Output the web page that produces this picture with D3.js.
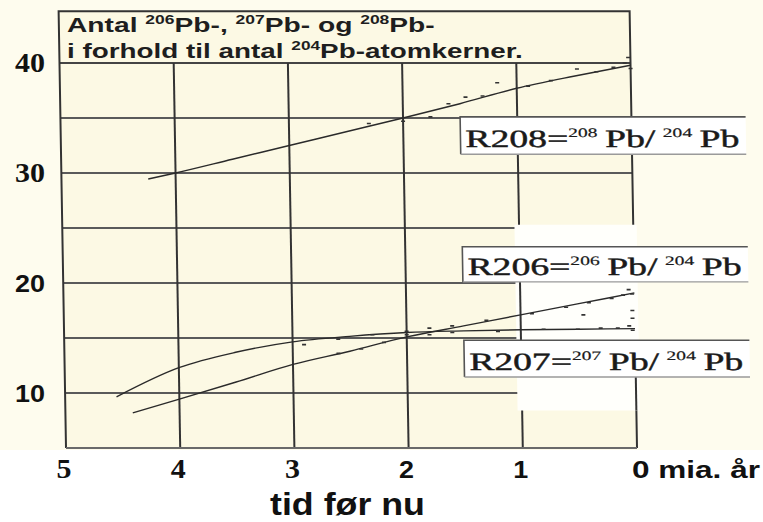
<!DOCTYPE html>
<html><head><meta charset="utf-8">
<script src="https://cdn.jsdelivr.net/npm/d3@7"></script>
<style>body{margin:0;background:#fff}svg{display:block}</style>
</head><body>
<svg id="chart" width="763" height="522"></svg>
<script>
// ---------- data ----------
const xTicks = [5, 4, 3, 2, 1, 0];
const xTickLabels = ["5", "4", "3", "2", "1", "0 mia. år"];
const yTicks = [10, 20, 30, 40];
const yTickLabels = ["10", "20", "30", "40"];
const gridValues = [10, 15, 20, 25, 30, 35];
const gridTimes = [4, 3, 2, 1];

const r208Time  = [4.24, 4.0, 3.5, 3.0, 2.5, 2.0, 1.5, 1.0, 0.5, 0.0];
const r208Value = [29.45, 30.0, 31.25, 32.5, 33.75, 35.0, 36.3, 37.7, 38.8, 39.8];
const r206Time  = [4.41, 4.0, 3.5, 3.0, 2.5, 2.0, 1.5, 1.0, 0.5, 0.0];
const r206Value = [8.2, 9.45, 11.0, 12.6, 13.8, 15.1, 16.1, 17.1, 18.1, 19.1];
const r207Time  = [4.55, 4.0, 3.5, 3.0, 2.5, 2.0, 1.5, 1.0, 0.5, 0.0];
const r207Value = [9.65, 12.3, 13.7, 14.65, 15.15, 15.5, 15.65, 15.75, 15.8, 15.85];

// measured sample points (scatter)
const r208PtTime  = [2.3, 2.0, 1.76, 1.6, 1.45, 1.3, 1.17, 0.9, 0.7, 0.47, 0.3, 0.15, 0.05, 0.02, 0.0];
const r208PtValue = [34.5, 34.7, 35.1, 36.3, 36.9, 37.0, 38.2, 37.9, 38.4, 39.45, 39.2, 39.6, 40.0, 40.5, 39.5];
const r206PtTime  = [2.6, 2.4, 2.2, 2.0, 1.8, 1.6, 1.3, 0.9, 0.6, 0.45, 0.4, 0.2, 0.1, 0.05, 0.02, 0.02, 0.02];
const r206PtValue = [13.6, 14.0, 14.6, 15.3, 15.9, 16.1, 16.6, 17.2, 17.8, 17.1, 18.2, 18.6, 18.9, 19.4, 19.0, 17.5, 16.8];
const r207PtTime  = [2.9, 2.6, 2.3, 2.0, 1.8, 1.6, 1.2, 0.8, 0.5, 0.3, 0.15, 0.05, 0.02];
const r207PtValue = [14.4, 14.9, 15.3, 15.6, 15.3, 15.5, 15.6, 15.8, 15.8, 15.9, 15.9, 16.1, 15.7];

const headerLine1 = [["Antal ", false], ["206", true], ["Pb-, ", false], ["207", true], ["Pb- og ", false], ["208", true], ["Pb-", false]];
const headerLine2 = [["i forhold til antal ", false], ["204", true], ["Pb-atomkerner.", false]];
const xTitle = "tid før nu";
const seriesLabels = [
  {name: "R208", iso: "208"},
  {name: "R206", iso: "206"},
  {name: "R207", iso: "207"}
];

// ---------- layout ----------
const svg = d3.select("#chart");
const x = d3.scaleLinear().domain([5, 0]).range([66, 637]);
const y = d3.scaleLinear().domain([5, 40]).range([448, 63]);
const topValue = 44.7;
const sans = "'Liberation Sans', Arial, sans-serif";
const serif = "'Liberation Serif', 'Times New Roman', serif";

function fitStart(sel, px, py, w) {
  const bw = sel.node().getBBox().width;
  sel.attr("transform", `translate(${px},${py}) scale(${w / bw},1)`);
}
function fitEnd(sel, px, py, w) {
  const bw = sel.node().getBBox().width;
  sel.attr("transform", `translate(${px - w},${py}) scale(${w / bw},1)`);
}

// subtle page tint
svg.append("rect").attr("x", 0).attr("y", 0).attr("width", 763).attr("height", 450).attr("fill", "#fefcee");

const skew = Math.atan(0.0169) * 180 / Math.PI;
const g = svg.append("g").attr("transform", `translate(0,448) skewX(${skew}) translate(0,-448)`);

// plot background
g.append("rect").attr("x", x(5)).attr("y", y(topValue))
  .attr("width", x(0) - x(5)).attr("height", y(5) - y(topValue)).attr("fill", "#fcf9e4");

// horizontal grid
g.selectAll("line.hg").data(gridValues).join("line").attr("class", "hg")
  .attr("x1", x(5)).attr("x2", x(0)).attr("y1", d => y(d)).attr("y2", d => y(d))
  .attr("stroke", "#5a5a5a").attr("stroke-width", 2);
// header separator (40)
g.append("line").attr("x1", x(5)).attr("x2", x(0)).attr("y1", y(40)).attr("y2", y(40))
  .attr("stroke", "#444").attr("stroke-width", 2);
// vertical grid
g.selectAll("line.vg").data(gridTimes).join("line").attr("class", "vg")
  .attr("x1", d => x(d)).attr("x2", d => x(d)).attr("y1", y(40)).attr("y2", y(5))
  .attr("stroke", "#333").attr("stroke-width", 2);
// frame
g.append("path").attr("d", `M${x(5)},${y(5)}V${y(topValue)}H${x(0)}V${y(5)}`)
  .attr("fill", "none").attr("stroke", "#333").attr("stroke-width", 2);
g.append("line").attr("x1", x(5)).attr("x2", x(0)).attr("y1", y(5)).attr("y2", y(5))
  .attr("stroke", "#6a6a6a").attr("stroke-width", 2);

// pasted white patch around lower labels
g.append("rect").attr("x", x(1.04)).attr("y", y(25.3))
  .attr("width", x(-0.03) - x(1.04)).attr("height", y(8.4) - y(25.3)).attr("fill", "#fffffb");
g.append("line").attr("x1", x(1)).attr("x2", x(1)).attr("y1", y(20.1)).attr("y2", y(14.8))
  .attr("stroke", "#333").attr("stroke-width", 2);
g.append("line").attr("x1", x(0)).attr("x2", x(0)).attr("y1", y(11.45)).attr("y2", y(8.4))
  .attr("stroke", "#333").attr("stroke-width", 2);

// label boxes
const boxes = [
  {lo: 31.7, hi: 35.1},
  {lo: 20.1, hi: 23.3},
  {lo: 11.45, hi: 14.8}
];
boxes.forEach((b, i) => {
  const x0 = x(1.5), x1 = x(-1.0), yt = y(b.hi), yb = y(b.lo);
  g.append("rect").attr("x", x0).attr("y", yt).attr("width", x1 - x0).attr("height", yb - yt).attr("fill", "#fff");
  g.append("path").attr("d", `M${x1},${yt}H${x0}V${yb}`).attr("fill", "none").attr("stroke", "#555").attr("stroke-width", 1.6);
  g.append("line").attr("x1", x0).attr("x2", x1).attr("y1", yb).attr("y2", yb).attr("stroke", "#9a9a9a").attr("stroke-width", 1.4);
  const lab = seriesLabels[i];
  const t = g.append("text").attr("font-family", serif).attr("font-size", 25).attr("fill", "#1a1a1a")
    .attr("stroke", "#1a1a1a").attr("stroke-width", 0.45);
  t.append("tspan").text(lab.name + "=");
  t.append("tspan").attr("font-size", 13).attr("dy", -10).attr("stroke-width", 0.2).text(lab.iso);
  t.append("tspan").attr("dy", 10).text("\u2009Pb/\u2009");
  t.append("tspan").attr("font-size", 13).attr("dy", -10).attr("stroke-width", 0.2).text("204");
  t.append("tspan").attr("dy", 10).text("\u2009Pb");
  fitStart(t, x0 + 5, yb - 7, 274);
});

// curves
const line = d3.line().x(d => x(d[0])).y(d => y(d[1])).curve(d3.curveMonotoneX);
const series = [
  [r208Time, r208Value, r208PtTime, r208PtValue],
  [r206Time, r206Value, r206PtTime, r206PtValue],
  [r207Time, r207Value, r207PtTime, r207PtValue]
];
series.forEach(([ts, vs, pts, pvs]) => {
  const pts2 = ts.map((t, i) => [t, vs[i]]).reverse();
  g.append("path").attr("d", line(pts2)).attr("fill", "none").attr("stroke", "#2a2a2a").attr("stroke-width", 1.4);
  g.selectAll(null).data(pts.map((t, i) => [t, pvs[i]])).join("rect")
    .attr("x", d => x(d[0]) - 2).attr("y", d => y(d[1]) - 0.8)
    .attr("width", 4).attr("height", 1.6).attr("fill", "#333");
});

// ---------- texts ----------
function header(parts, py, w) {
  const t = svg.append("text").attr("font-family", sans).attr("font-weight", "bold")
    .attr("font-size", 21).attr("fill", "#1e1e1e");
  let up = false;
  parts.forEach(([s, sup]) => {
    const ts = t.append("tspan").text(s);
    if (sup) { ts.attr("font-size", 13).attr("dy", up ? 0 : -8); up = true; }
    else { ts.attr("dy", up ? 8 : 0); up = false; }
  });
  fitStart(t, 67, py, w);
}
header(headerLine1, 32, 368);
header(headerLine2, 58, 456);

// y tick labels
const serifTicks = new Set(["40", "30", "5", "4", "3"]);
yTicks.forEach((v, i) => {
  const lab = yTickLabels[i];
  const t = svg.append("text").attr("font-family", serifTicks.has(lab) ? serif : sans)
    .attr("font-weight", "bold").attr("font-size", serifTicks.has(lab) ? 27 : 24).attr("fill", "#111").text(lab);
  fitEnd(t, 45, y(v) + 9, 30);
});

// x tick labels
xTicks.forEach((v, i) => {
  const lab = xTickLabels[i];
  const t = svg.append("text").attr("font-family", serifTicks.has(lab) ? serif : sans)
    .attr("font-weight", "bold").attr("font-size", serifTicks.has(lab) ? 27 : 24).attr("fill", "#111").text(lab);
  if (lab.length > 1) fitStart(t, x(v) - 5, 478, 128);
  else fitStart(t, x(v) - 9.5, 478, 15);
});

// x title
const xt = svg.append("text").attr("font-family", sans).attr("font-weight", "bold")
  .attr("font-size", 31).attr("fill", "#111").text(xTitle);
fitStart(xt, 270, 515, 155);
</script>
</body></html>
